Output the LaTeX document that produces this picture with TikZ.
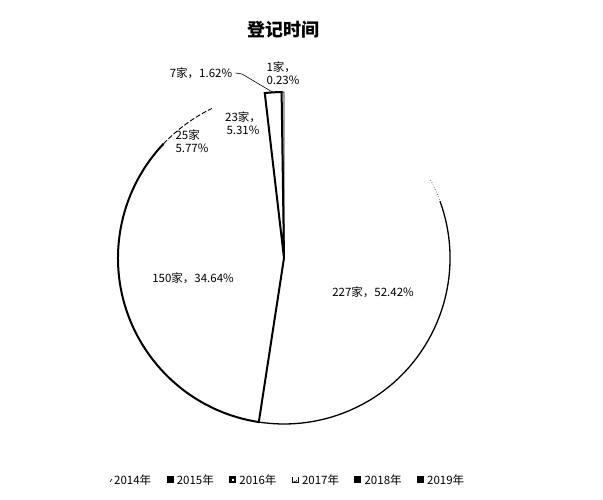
\documentclass[tikz,border=0pt]{standalone}
\usepackage{fontspec}
\setmainfont{Noto Sans CJK SC}
\usetikzlibrary{calc}
\begin{document}
\begin{tikzpicture}[x=1pt,y=1pt,font=\fontsize{11.5}{13}\selectfont]
\useasboundingbox (0,0) rectangle (603,500);
\def\r{166}
\coordinate[] (O) at (284,242);
\coordinate[] (P0) at ($(O)+(90:\r)$);
\coordinate[] (P1) at ($(O)+(-98.73:\r)$);
\coordinate[] (P2) at ($(O)+(136.56:\r)$);
\coordinate[] (P3) at ($(O)+(115.77:\r)$);
\coordinate[] (P4) at ($(O)+(96.65:\r)$);
\coordinate[] (P5) at ($(O)+(90.83:\r)$);
\node[font=\fontsize{18}{20}\selectfont\bfseries] (title) at (283,470) {登记时间};
% slices
\draw [line width=1.3pt] ($(O)+(20:\r)$) arc (20:-98.73:\r);
\draw [dotted,line width=0.6pt] ($(O)+(28:\r)$) arc (28:20:\r);
\draw [line width=2pt] (O) -- (P1) arc (-98.73:-223.44:\r);
\draw [dash pattern=on 5pt off 2pt,line width=0.9pt] (P2) arc (136.56:115.77:\r);
\draw [line width=2pt,line join=miter] (O) -- (P4) arc (96.65:90.83:\r) -- cycle;
\draw [line width=0.8pt] (O) -- (P5) arc (90.83:90:\r) -- (O);
% labels
\node (l2014) at (373,208) {227家，52.42\%};
\node (l2015) at (193,222) {150家，34.64\%};
\node[align=left] (l2016) at (192,359) {25家\\5.77\%};
\node[align=center] (l2017) at (243,377) {23家，\\5.31\%};
\node (l2018) at (201,427) {7家，1.62\%};
\node[align=left] (l2019) at (283,427) {1家，\\0.23\%};
\coordinate (k1) at (242,426);
\draw [line width=0.6pt] (l2018.east) -- (k1) -- ($(P4)!0.5!(P5)$);
% legend
\foreach \yr [count=\i from 0] in {2014,...,2019}
	\node[anchor=west,inner sep=0pt,font=\fontsize{11.5}{12}\selectfont] (leg\yr) at ({114+62.6*\i},20) {\yr 年};
\draw [line width=0.6pt] ($(leg2014.west)+(-4,-2)$) -- +(2,3);
\foreach \yr in {2015,2018,2019}
	\fill ($(leg\yr.west)+(-10,-3.5)$) rectangle +(7,7);
\fill ($(leg2016.west)+(-10,-3.5)$) rectangle +(7,7);
\fill[white] ($(leg2016.west)+(-7.5,-1)$) rectangle +(2,2);
\draw [line width=1pt] ($(leg2017.west)+(-9.5,3)$) -- +(0,-6) -- +(6,-6) -- +(6,0);
\draw [line width=0.6pt] ($(leg2017.west)+(-8,-1)$) -- +(1.5,-1.5) -- +(3,1);
\end{tikzpicture}
\end{document}
